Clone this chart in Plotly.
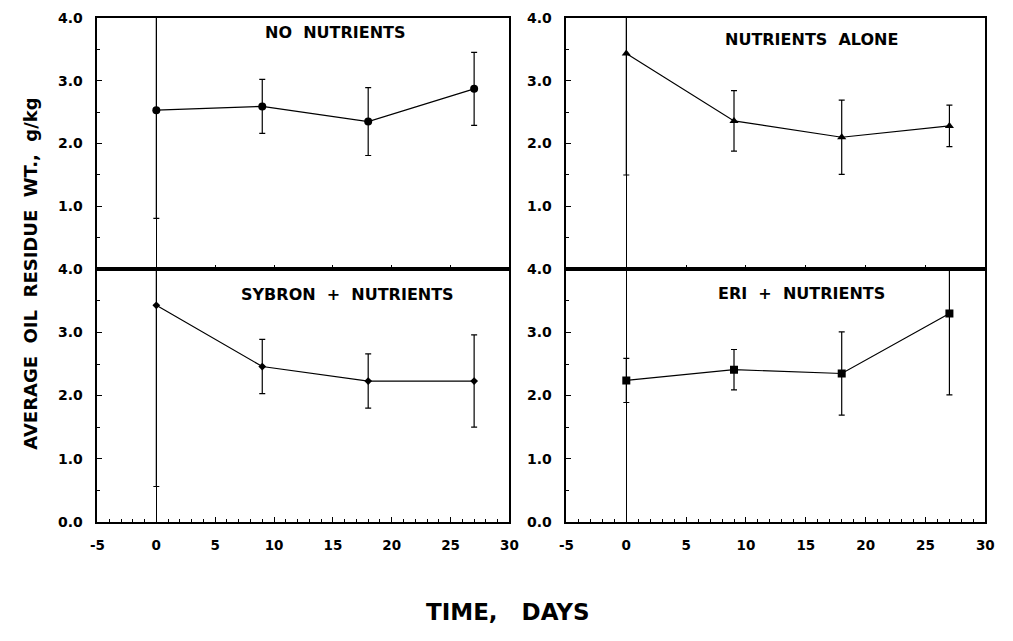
import plotly.graph_objects as go

days = [0, 9, 18, 27]

no_nutr = [2.53, 2.59, 2.35, 2.87]
no_nutr_err = [1.72, 0.43, 0.54, 0.58]

nutr_alone = [3.43, 2.36, 2.10, 2.28]
nutr_alone_err = [1.93, 0.48, 0.59, 0.33]

sybron = [3.43, 2.46, 2.23, 2.23]
sybron_err = [2.87, 0.43, 0.43, 0.73]

eri = [2.24, 2.41, 2.35, 3.30]
eri_err = [0.35, 0.32, 0.66, 1.29]

NB = "\u00a0"
panel_titles = ["NO" + NB * 2 + "NUTRIENTS", "NUTRIENTS" + NB * 2 + "ALONE",
                "SYBRON" + NB * 2 + "+" + NB * 2 + "NUTRIENTS", "ERI" + NB * 2 + "+" + NB * 2 + "NUTRIENTS"]
title_pos = [(15.2, 3.77), (15.5, 3.66), (16.2, 3.60), (14.6, 3.61)]
y_tick_vals = [0, 1, 2, 3, 4]
y_tick_text = ["0.0", "1.0", "2.0", "3.0", "4.0"]
x_tick_vals = [-5, 0, 5, 10, 15, 20, 25, 30]

W, H = 1013, 641
FONT = "DejaVu Sans"

def px(x):
    return x / W

def py(y):
    return 1 - y / H

# pixel geometry
xdom = [[px(91), px(510)], [px(568), px(994)]]
ydom = [[py(268), py(10)], [py(527), py(268)]]

series = [
    (no_nutr, no_nutr_err, "circle", 8),
    (nutr_alone, nutr_alone_err, "triangle-up", 8),
    (sybron, sybron_err, "diamond", 6),
    (eri, eri_err, "square", 8),
]

fig = go.Figure()
layout = dict(
    width=W, height=H,
    margin=dict(l=0, r=0, t=0, b=0),
    paper_bgcolor="white", plot_bgcolor="white",
    showlegend=False,
    annotations=[],
)

for i, (vals, errs, sym, size) in enumerate(series):
    row, col = divmod(i, 2)
    n = i + 1
    xa = "x" if n == 1 else f"x{n}"
    ya = "y" if n == 1 else f"y{n}"
    fig.add_trace(go.Scatter(
        x=days, y=vals, xaxis=xa, yaxis=ya,
        mode="lines+markers",
        line=dict(color="black", width=1.2),
        marker=dict(symbol=sym, size=size, color="black"),
        error_y=dict(type="data", array=errs, visible=True,
                     color="black", thickness=1.2, width=3),
    ))
    xkey = "xaxis" if n == 1 else f"xaxis{n}"
    ykey = "yaxis" if n == 1 else f"yaxis{n}"
    top = row == 0
    layout[xkey] = dict(
        domain=xdom[col], anchor=ya, range=[-5, 30],
        showgrid=False, zeroline=True, zerolinecolor="black", zerolinewidth=1.2,
        showline=True, linecolor="black", linewidth=1.6, mirror=True,
        ticks="inside", ticklen=5, tickwidth=1.2, tickcolor="black",
        tickmode="array", tickvals=x_tick_vals,
        ticktext=[str(v) for v in x_tick_vals],
        showticklabels=not top,
        tickfont=dict(family=FONT, size=13.5, color="black", weight="bold"),
        ticklabelstandoff=10,
        minor=dict(dtick=1, tick0=0, ticks="inside", ticklen=3, tickwidth=1, tickcolor="black", showgrid=False),
    )
    ttext = list(y_tick_text)
    if top:
        ttext[0] = ""
    layout[ykey] = dict(
        domain=ydom[row], anchor=xa, range=[0, 4],
        showgrid=False, zeroline=False,
        showline=True, linecolor="black", linewidth=1.6, mirror=True,
        ticks="inside", ticklen=5, tickwidth=1.2, tickcolor="black",
        tickmode="array", tickvals=y_tick_vals, ticktext=ttext,
        tickfont=dict(family=FONT, size=14, color="black", weight="bold"),
        ticklabelstandoff=10,
        minor=dict(tickvals=[0.5, 1.5, 2.5, 3.5], ticks="inside", ticklen=3, tickwidth=1, tickcolor="black", showgrid=False),
    )
    tx, ty = title_pos[i]
    layout["annotations"].append(dict(
        text=panel_titles[i], xref=xa, yref=ya, x=tx, y=ty,
        showarrow=False, xanchor="center", yanchor="middle",
        font=dict(family=FONT, size=16, color="black", weight="bold"),
    ))

layout["annotations"].append(dict(
    text=(NB * 2).join(["AVERAGE", "OIL", "RESIDUE", "WT.,", "g/kg"]),
    xref="paper", yref="paper", x=px(23), y=py(273), textangle=-90,
    showarrow=False, xanchor="center", yanchor="middle",
    font=dict(family=FONT, size=18, color="black", weight="bold"),
))
layout["annotations"].append(dict(
    text="TIME," + NB * 3 + "DAYS",
    xref="paper", yref="paper", x=px(509), y=py(619),
    showarrow=False, xanchor="center", yanchor="middle",
    font=dict(family=FONT, size=23, color="black", weight="bold"),
))

fig.update_layout(**layout)
fig.write_html("out.html")
